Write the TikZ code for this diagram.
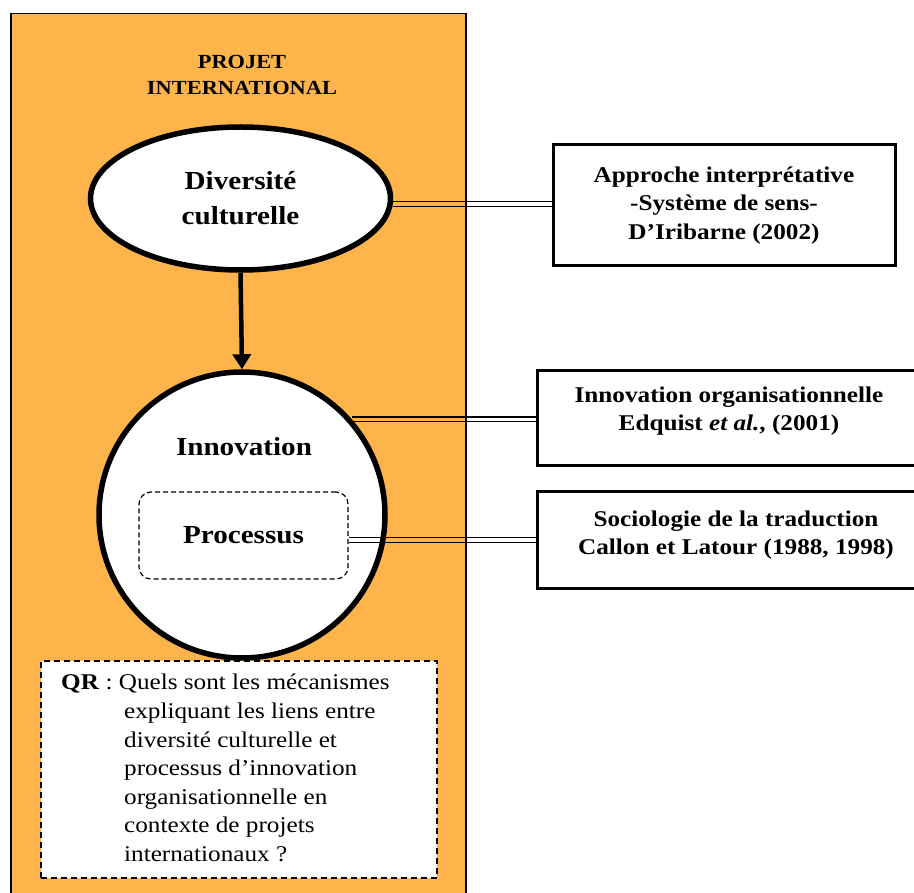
\documentclass[tikz,border=0pt]{standalone}
\usepackage{fontspec}
\setmainfont{Liberation Serif}[FakeStretch=1.12]
\usetikzlibrary{arrows.meta,calc,shapes.geometric}
\definecolor{orangebg}{RGB}{253,180,74}
\tikzset{
  bigbold/.style={font=\bfseries\fontsize{26}{35}\selectfont, align=center},
  boxtext/.style={font=\bfseries\fontsize{22.5}{28.5}\selectfont, align=center},
  refbox/.style={draw, line width=3pt, fill=white, inner sep=0pt},
  twin/.style={line width=1.4pt},
}
\begin{document}
\begin{tikzpicture}[x=1pt,y=-1pt]
\useasboundingbox (0,0) rectangle (914,893);
\fill[white] (0,0) rectangle (914,893);
% frame
\node[draw, line width=1.5pt, fill=orangebg, minimum width=455pt, minimum height=900pt, anchor=north west, inner sep=0pt] (frame) at (10,13) {};
\node[font=\bfseries\fontsize{20}{26}\selectfont, align=center] (title) at (242,75) {PROJET\\INTERNATIONAL};
% ellipse
\node[ellipse, draw, line width=5.5pt, fill=white, minimum width=300pt, minimum height=143pt, inner sep=0pt, bigbold] (div) at (240.5,198.5) {Diversité\\culturelle};
% circle
\node[circle, draw, line width=5.5pt, fill=white, minimum size=286pt, inner sep=0pt] (innov) at (242,515) {};
\node[bigbold] (innovlbl) at (244,447) {Innovation};
\node[draw, dashed, dash pattern=on 5pt off 3pt, line width=1.2pt, rounded corners=12pt, minimum width=209pt, minimum height=87pt, inner sep=0pt, bigbold] (proc) at (243.5,535.5) {Processus};
% arrow
\draw[line width=4.5pt, -{Triangle[length=15pt,width=18pt]}] (div.south) -- (innov.north);
% right boxes
\node[refbox, minimum width=342pt, minimum height=121pt, boxtext] (b1) at (724,205.5) {Approche interprétative\\-Système de sens-\\D’Iribarne (2002)};
\node[refbox, minimum width=386pt, minimum height=95pt, anchor=west] (b2) at (536,418.5) {};
\node[boxtext] (b2t) at (729,411) {Innovation organisationnelle\\Edquist \textit{et al.}, (2001)};
\node[refbox, minimum width=386pt, minimum height=96pt, anchor=west] (b3) at (536,540) {};
\node[boxtext] (b3t) at (736,535) {Sociologie de la traduction\\Callon et Latour (1988, 1998)};
% connectors
\foreach \s in {-2.4,2.4}{
  \draw[twin, transform canvas={yshift=\s pt}] (div.-2.5) -- (div.-2.5 -| b1.west);
  \draw[twin, transform canvas={yshift=\s pt}] (innov.41.6) -- (innov.41.6 -| b2.west);
  \draw[twin, transform canvas={yshift=\s pt}] (proc.east |- b3.west) -- (b3.west);
}
% QR box
\node[draw, dashed, dash pattern=on 6pt off 4pt, line width=1.5pt, fill=white, minimum width=396pt, minimum height=217pt, anchor=north west, inner sep=0pt] (qr) at (40,660) {};
\node[anchor=north west, align=left, font=\fontsize{22.5}{28.6}\selectfont, inner sep=0pt] (qrt) at (61,674)
{\textbf{QR} : Quels sont les mécanismes\\
\hspace*{63pt}expliquant les liens entre\\
\hspace*{63pt}diversité culturelle et\\
\hspace*{63pt}processus d’innovation\\
\hspace*{63pt}organisationnelle en\\
\hspace*{63pt}contexte de projets\\
\hspace*{63pt}internationaux ?};
\end{tikzpicture}
\end{document}
